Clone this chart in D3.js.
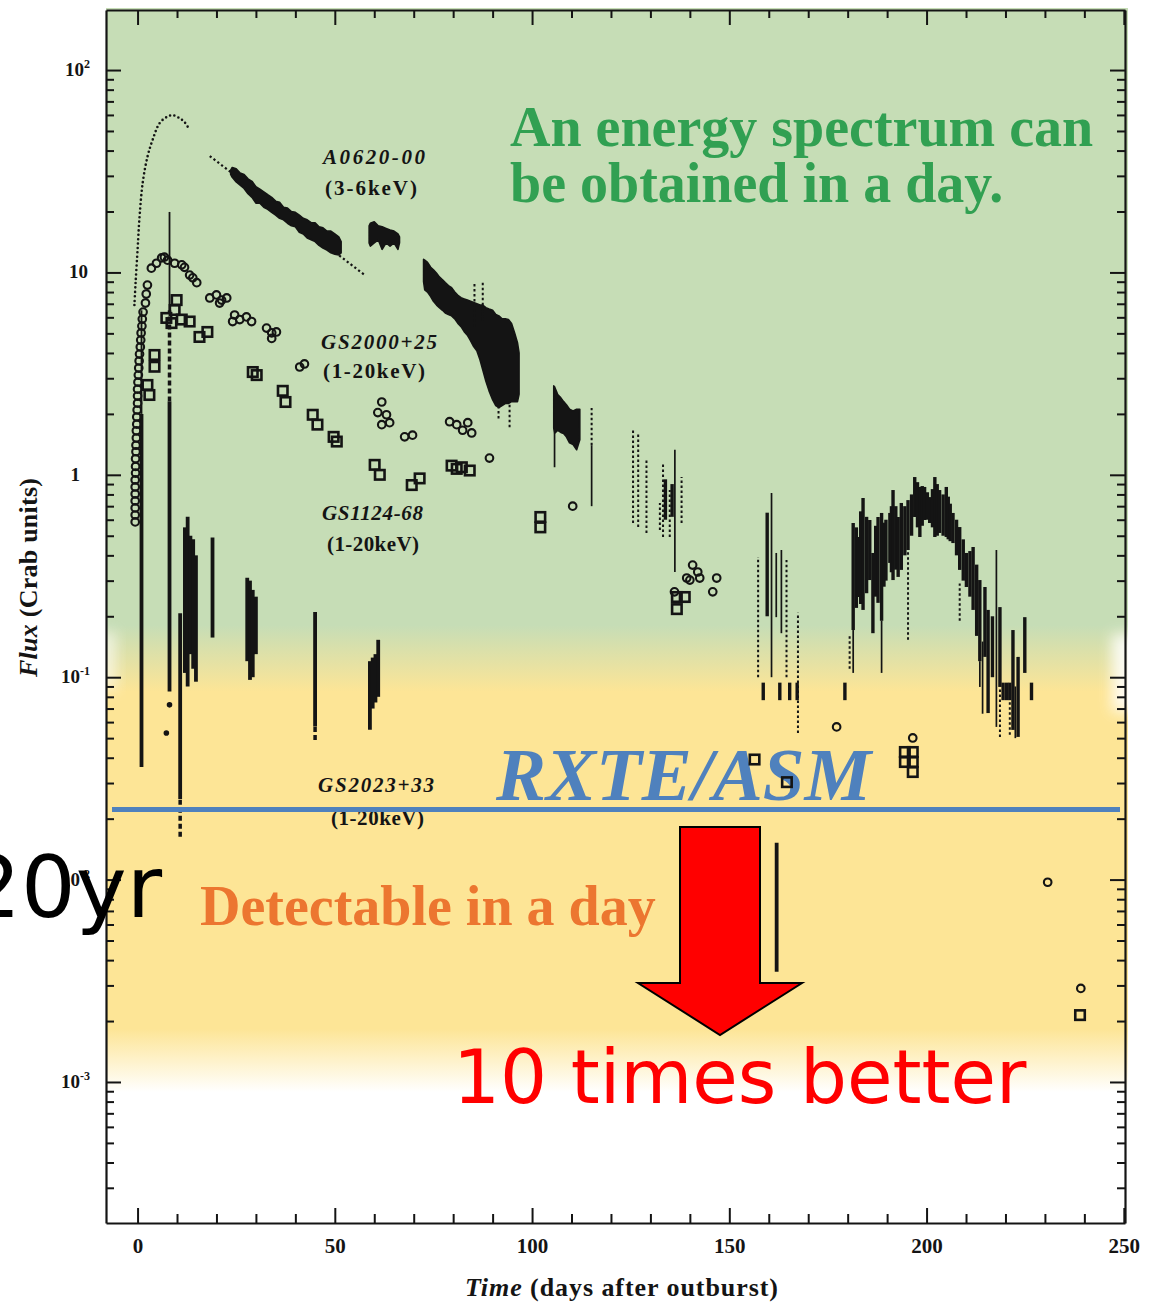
<!DOCTYPE html>
<html>
<head>
<meta charset="utf-8">
<title>X-ray nova light curves</title>
<script src="https://cdn.jsdelivr.net/npm/d3@7"></script>
<style>
  html, body { margin: 0; padding: 0; background: #fff; }
  svg { display: block; }
</style>
</head>
<body>
<div id="chart"></div>
<script>
// ---- Axis ticks -------------------------------------------------------
const dayMajorTicks = [0, 50, 100, 150, 200, 250];
const dayMinorTicks = [10, 20, 30, 40, 60, 70, 80, 90, 110, 120, 130, 140,
                       160, 170, 180, 190, 210, 220, 230, 240];
const fluxDecades = [100, 10, 1, 0.1, 0.01, 0.001];
const fluxDecadeLabels = [["10", "2"], ["10", ""], ["1", ""], ["10", "-1"], ["10", "-2"], ["10", "-3"]];

// ---- A0620-00 (3-6 keV) -----------------------------------------------
// rise and first maximum: [day, flux in Crab]
const a0620Rise = [[-0.8, 6.9], [-0.5, 8.9], [0, 12.9], [0.5, 18.8], [1.3, 27.7], [2.5, 37.2],
                   [3.8, 45.1], [5.6, 54.7], [7.4, 58.6], [8.9, 59.9], [10.6, 57.9], [11.9, 55.3], [13.2, 50.5]];
// exponential decay trend
const a0620Trend = [[18.3, 37.6], [57.6, 9.7]];
// continuous scan bands: [day, low flux, high flux]
const a0620BandEarly = [
  [23.6, 30.5, 32.0], [24, 29.5, 33.0], [25, 28.0, 32.5], [26, 27.0, 31.0], [27, 26.0, 30.5], [28, 24.5, 29.0],
  [29, 23.5, 28.2], [30, 22.0, 26.5], [31, 22.0, 25.8], [32, 21.0, 25.0], [33, 20.5, 24.2],
  [34, 19.8, 23.5], [35, 19.2, 22.5], [36, 18.5, 22.2], [37, 18.2, 21.0], [38, 17.5, 20.8],
  [39, 17.0, 20.0], [40, 16.8, 19.8], [41, 15.8, 19.2], [42, 15.5, 18.5], [43, 14.8, 18.2],
  [44, 14.5, 17.6], [45, 14.2, 17.6], [46, 13.6, 16.8], [47, 13.2, 16.6], [48, 12.9, 16.0],
  [49, 12.5, 16.0], [50, 12.3, 15.5], [51, 12.2, 15.0], [51.6, 12.5, 14.2]
];
const a0620Plateau = [
  [58.7, 14.0, 17.0], [59, 13.5, 17.5], [60, 14.0, 17.8], [61, 14.5, 17.0], [62, 13.0, 16.8], [63, 14.0, 16.5],
  [64, 13.5, 16.2], [65, 14.0, 16.0], [66, 13.0, 15.5], [66.4, 14.0, 15.0]
];
const a0620Decline = [
  [72.5, 9.0, 11.6], [72.8, 8.2, 11.5], [73.5, 8.0, 11.2], [74.3, 7.6, 10.6], [75.0, 7.2, 10.3], [75.8, 6.9, 9.9],
  [76.5, 6.7, 9.5], [77.3, 6.5, 9.2], [78.0, 6.3, 8.9], [78.8, 6.2, 8.6], [79.6, 6.1, 8.4],
  [80.4, 5.9, 8.0], [81.2, 5.6, 7.7], [82.0, 5.4, 7.5], [82.8, 5.1, 7.4], [83.6, 4.9, 7.3],
  [84.4, 4.6, 7.2], [85.2, 4.3, 7.1], [86.0, 4.1, 7.0], [86.8, 3.7, 6.9], [87.5, 3.3, 6.9],
  [88.3, 2.9, 6.7], [89.1, 2.6, 6.6], [90.0, 2.35, 6.5], [90.8, 2.2, 6.2], [91.6, 2.15, 6.1],
  [92.4, 2.2, 5.9], [93.2, 2.25, 5.9], [94.0, 2.25, 5.85], [94.8, 2.3, 5.6], [95.6, 2.3, 5.0],
  [96.3, 2.3, 4.5], [96.7, 2.5, 4.0]
];
const a0620Shoulder = [
  [105.5, 1.7, 2.75], [105.7, 1.6, 2.72], [106.5, 1.66, 2.49], [107.3, 1.62, 2.40], [108.0, 1.60, 2.30],
  [108.7, 1.54, 2.22], [109.5, 1.44, 2.11], [110.4, 1.41, 2.07], [111.3, 1.33, 2.11], [112.1, 1.49, 2.11]
];
// individual scan columns: [day, low flux, high flux]
const a0620Dense = [
  [133.8, 0.60, 0.95], [135.5, 0.62, 0.90],
  [159.6, 0.20, 0.65],
  [158.6, 0.077, 0.094], [162.8, 0.077, 0.094], [165.3, 0.077, 0.094], [167.2, 0.077, 0.094], [179.3, 0.077, 0.094],
  [181.4, 0.171, 0.578], [182.2, 0.22, 0.55], [182.6, 0.249, 0.493], [183.3, 0.23, 0.66], [183.9, 0.215, 0.768],
  [184.8, 0.26, 0.62], [185.6, 0.302, 0.598], [186.4, 0.165, 0.411], [187.1, 0.25, 0.56], [187.7, 0.233, 0.619],
  [188.6, 0.19, 0.648], [189.2, 0.28, 0.58], [189.7, 0.30, 0.60], [190.7, 0.367, 0.648], [191.1, 0.33, 0.70],
  [191.5, 0.302, 0.841], [192.2, 0.34, 0.70], [192.8, 0.313, 0.619], [193.6, 0.339, 0.726], [194.5, 0.40, 0.70],
  [195.3, 0.425, 0.750], [196.2, 0.50, 0.80], [197.0, 0.619, 0.975], [197.7, 0.55, 0.92], [198.3, 0.493, 0.871],
  [198.9, 0.56, 0.88], [199.5, 0.598, 0.871], [200.2, 0.60, 0.82], [200.8, 0.578, 0.776], [201.5, 0.55, 0.85],
  [202.1, 0.493, 0.975], [202.7, 0.50, 0.90], [203.3, 0.516, 0.841], [204.2, 0.50, 0.80], [205.0, 0.493, 0.871],
  [205.5, 0.48, 0.78], [206.0, 0.47, 0.72], [206.7, 0.460, 0.648], [207.6, 0.40, 0.60], [208.4, 0.339, 0.552],
  [209.3, 0.30, 0.48], [210.1, 0.279, 0.411], [211.0, 0.25, 0.42], [211.8, 0.215, 0.440], [212.7, 0.16, 0.36],
  [213.5, 0.12, 0.302], [214.8, 0.126, 0.279], [215.6, 0.0665, 0.215], [216.7, 0.10, 0.20],
  [218.6, 0.0895, 0.222], [219.4, 0.077, 0.094], [220.3, 0.077, 0.094], [221.1, 0.077, 0.094],
  [221.9, 0.0549, 0.171], [223.2, 0.0507, 0.126], [224.9, 0.105, 0.198], [226.6, 0.077, 0.094]
];
const a0620Thin = [
  [105.7, 1.09, 1.6], [115.1, 0.70, 1.4], [136.2, 0.331, 1.33], [160.7, 0.10, 0.813], [161.9, 0.198, 0.411],
  [163.2, 0.165, 0.425], [181.4, 0.105, 0.171], [188.6, 0.105, 0.19], [213.5, 0.0895, 0.12],
  [217.7, 0.0568, 0.425], [214.2, 0.066, 0.15], [222.5, 0.05, 0.09]
];
const a0620Dotted = [
  [85.4, 5.4, 8.9], [87.5, 5.8, 8.9], [91.5, 1.9, 2.3], [94.3, 1.72, 2.3], [115.1, 1.4, 2.14],
  [125.6, 0.578, 1.66], [126.9, 0.552, 1.61], [129.0, 0.516, 1.18], [132.4, 0.534, 0.726],
  [133.2, 0.493, 1.14], [134.9, 0.493, 0.841], [137.9, 0.578, 0.975],
  [157.3, 0.100, 0.393], [164.5, 0.100, 0.379], [167.4, 0.053, 0.208], [180.5, 0.11, 0.16],
  [195.3, 0.153, 0.425], [208.4, 0.19, 0.29], [218.6, 0.0507, 0.0895], [221.1, 0.052, 0.077]
];

// ---- GS2000+25 (1-20 keV), circles: [day, flux] ------------------------
const gs2000Circles = [
  [-0.6, 0.585], [-0.6, 0.633], [-0.6, 0.686], [-0.6, 0.743], [-0.6, 0.804], [-0.6, 0.871], [-0.6, 0.943],
  [-0.5, 1.02], [-0.5, 1.10], [-0.5, 1.20], [-0.4, 1.30], [-0.4, 1.40], [-0.3, 1.52], [-0.3, 1.65],
  [-0.2, 1.78], [-0.2, 1.93], [-0.1, 2.09], [0, 2.26], [0, 2.45], [0, 2.65], [0.1, 2.87], [0.2, 3.11],
  [0.3, 3.37], [0.4, 3.65], [0.5, 3.95], [0.7, 4.28], [0.8, 4.63], [0.9, 5.02], [1.1, 5.43], [1.2, 5.88],
  [1.4, 6.37], [2.0, 7.06], [2.2, 7.82], [2.5, 8.66],
  [3.5, 10.5], [4.8, 11.1], [6.1, 11.8], [6.8, 11.9], [7.6, 11.5],
  [9.4, 11.1], [11.2, 10.9], [11.9, 10.6], [13.2, 9.7], [14.0, 9.4], [15.0, 8.9],
  [18.3, 7.48], [20.0, 7.74], [20.8, 7.06], [21.3, 7.3], [22.6, 7.48],
  [24.1, 5.72], [24.6, 6.16], [25.9, 5.85], [27.6, 6.03], [28.9, 5.72],
  [32.7, 5.31], [34.0, 5.03], [34.0, 4.72], [35.2, 5.08],
  [41.1, 3.41], [42.3, 3.53],
  [60.9, 2.03], [61.9, 2.29], [61.9, 1.77], [63.1, 1.98], [63.9, 1.81],
  [67.7, 1.54], [69.7, 1.57],
  [79.1, 1.83], [80.9, 1.77], [82.4, 1.66], [83.7, 1.81], [84.7, 1.61],
  [89.2, 1.21], [110.3, 0.70],
  [136.1, 0.264], [139.2, 0.309], [140.0, 0.302], [140.7, 0.358], [142.0, 0.331], [142.5, 0.309],
  [145.8, 0.264], [146.8, 0.309],
  [177.2, 0.0568], [196.5, 0.0501], [230.7, 0.0097], [239.1, 0.0029]
];

// ---- GS1124-68 (1-20 keV), squares: [day, flux] ------------------------
const gs1124Squares = [
  [2.5, 2.78], [3.0, 2.48], [4.3, 3.91], [4.3, 3.42], [7.3, 5.96], [8.6, 5.62], [9.4, 6.52], [9.9, 7.3],
  [11.2, 5.85], [13.2, 5.72], [15.7, 4.80], [17.7, 5.08], [29.2, 3.22], [30.2, 3.11], [36.8, 2.60],
  [37.5, 2.29], [44.4, 1.98], [45.6, 1.77], [49.7, 1.54], [50.5, 1.46], [60.1, 1.12], [61.4, 1.0],
  [69.5, 0.89], [71.5, 0.96], [79.6, 1.11], [80.9, 1.07], [82.2, 1.09], [84.2, 1.05],
  [102.1, 0.619], [102.1, 0.55], [136.7, 0.249], [136.7, 0.217], [138.7, 0.249],
  [156.4, 0.0392], [164.6, 0.0303], [194.5, 0.0427], [196.5, 0.0427], [194.5, 0.0381], [196.5, 0.0381],
  [196.5, 0.034], [238.9, 0.00214]
];

// ---- GS2023+33 (1-20 keV): [day, low flux, high flux] ------------------
const gs2023Dense = [
  [1.0, 0.036, 2.0], [8.1, 0.085, 2.3], [10.8, 0.025, 0.207],
  [12.0, 0.105, 0.55], [12.7, 0.09, 0.62], [13.4, 0.13, 0.5], [14.1, 0.11, 0.48], [14.8, 0.095, 0.4],
  [19.0, 0.157, 0.49], [27.8, 0.12, 0.31], [28.5, 0.097, 0.30], [29.2, 0.10, 0.27], [30.0, 0.13, 0.25],
  [45.0, 0.057, 0.21], [58.9, 0.055, 0.12], [59.6, 0.07, 0.125], [60.3, 0.075, 0.13], [61.0, 0.08, 0.153],
  [162.0, 0.0035, 0.0152]
];
const gs2023Thin = [[1.0, 2.0, 6.5], [8.1, 6.5, 19.9]];
const gs2023Dotted = [[8.1, 2.3, 6.5], [10.8, 0.0163, 0.025], [45.0, 0.049, 0.057]];
const gs2023Points = [[8.1, 0.073], [7.3, 0.053]];

// RXTE/ASM one-day sensitivity (Crab)
const asmLimit = 0.0222;

// ---- Layout -----------------------------------------------------------
const W = 1157, H = 1302;
const x = d3.scaleLinear().domain([-8.0, 250.3]).range([106, 1125]);
const y = d3.scaleLog().domain([2.01e-4, 198]).range([1223, 10]);
const INK = "#141414";
const SERIF = "'Liberation Serif', 'Times New Roman', serif";
const SANS = "'DejaVu Sans', sans-serif";

const svg = d3.select("#chart").append("svg")
  .attr("width", W).attr("height", H).attr("viewBox", `0 0 ${W} ${H}`);
const defs = svg.append("defs");

// background: green (spectrum in a day) -> yellow (detectable in a day) -> white
const grad = defs.append("linearGradient").attr("id", "zoneFill")
  .attr("gradientUnits", "userSpaceOnUse").attr("x1", 0).attr("x2", 0).attr("y1", 8).attr("y2", 1120);
[[0, "#c6ddb6", 1], [0.555, "#c6ddb6", 1], [0.615, "#fde596", 1], [0.918, "#fde596", 1], [0.975, "#fde596", 0]]
  .forEach(([o, c, a]) => grad.append("stop").attr("offset", o).attr("stop-color", c).attr("stop-opacity", a));
defs.append("filter").attr("id", "soft").attr("x", "-50%").attr("y", "-50%").attr("width", "200%").attr("height", "200%")
  .append("feGaussianBlur").attr("stdDeviation", 7);

const bg = svg.append("g");
bg.append("rect").attr("x", 106).attr("y", 8).attr("width", 1022).attr("height", 1112).attr("fill", "url(#zoneFill)");
bg.append("rect").attr("x", 1112).attr("y", 634).attr("width", 60).attr("height", 78)
  .attr("fill", "#fff").attr("opacity", 0.85).attr("filter", "url(#soft)");
bg.append("rect").attr("x", 96).attr("y", 632).attr("width", 20).attr("height", 58)
  .attr("fill", "#fff").attr("opacity", 0.6).attr("filter", "url(#soft)");

// ---- Annotation texts behind the data ------------------------------------
const notes = svg.append("g");
notes.append("text").attr("x", 510).attr("y", 146)
  .attr("font-family", SERIF).attr("font-weight", "bold").attr("font-size", 56).attr("fill", "#31a052")
  .text("An energy spectrum can");
notes.append("text").attr("x", 510).attr("y", 202)
  .attr("font-family", SERIF).attr("font-weight", "bold").attr("font-size", 56).attr("fill", "#31a052")
  .text("be obtained in a day.");
notes.append("text").attr("x", 496).attr("y", 800)
  .attr("font-family", SERIF).attr("font-weight", "bold").attr("font-style", "italic")
  .attr("font-size", 75).attr("fill", "#4f81bd").text("RXTE/ASM");
notes.append("text").attr("x", 200).attr("y", 925)
  .attr("font-family", SERIF).attr("font-weight", "bold").attr("font-size", 56).attr("fill", "#ec7630")
  .text("Detectable in a day");

// ---- Data marks -------------------------------------------------------
const marks = svg.append("g");

function columns(rows, width, dash) {
  marks.append("g").selectAll("line").data(rows).join("line")
    .attr("x1", d => x(d[0])).attr("x2", d => x(d[0]))
    .attr("y1", d => y(d[1])).attr("y2", d => y(d[2]))
    .attr("stroke", INK).attr("stroke-width", width)
    .attr("stroke-dasharray", dash || null);
}
const bandArea = d3.area().x(d => x(d[0])).y0(d => y(d[1])).y1(d => y(d[2]));
function band(rows) {
  marks.append("path").datum(rows).attr("d", bandArea)
    .attr("fill", INK).attr("stroke", INK).attr("stroke-width", 1.6).attr("stroke-linejoin", "round");
}

// A0620-00 rise (dotted) and decay trend
marks.append("path").datum(a0620Rise)
  .attr("d", d3.line().x(d => x(d[0])).y(d => y(d[1])).curve(d3.curveCatmullRom))
  .attr("fill", "none").attr("stroke", INK).attr("stroke-width", 2.6)
  .attr("stroke-linecap", "round").attr("stroke-dasharray", "0,4.4");
marks.append("path").datum(a0620Trend)
  .attr("d", d3.line().x(d => x(d[0])).y(d => y(d[1])))
  .attr("fill", "none").attr("stroke", INK).attr("stroke-width", 2.2).attr("stroke-dasharray", "2.2,2.6");

band(a0620BandEarly);
band(a0620Plateau);
band(a0620Decline);
band(a0620Shoulder);
columns(a0620Dense, 3.4);
columns(a0620Thin, 1.7);
columns(a0620Dotted, 2, "2.5,2.5");

columns(gs2023Dense, 3.8);
columns(gs2023Thin, 1.8);
columns(gs2023Dotted, 3.5, "5,3");
marks.append("g").selectAll("circle").data(gs2023Points).join("circle")
  .attr("cx", d => x(d[0])).attr("cy", d => y(d[1])).attr("r", 2.8).attr("fill", INK);

marks.append("g").selectAll("circle").data(gs2000Circles).join("circle")
  .attr("cx", d => x(d[0])).attr("cy", d => y(d[1])).attr("r", 3.8)
  .attr("fill", "none").attr("stroke", INK).attr("stroke-width", 2.1);

const sq = 9.5;
marks.append("g").selectAll("rect").data(gs1124Squares).join("rect")
  .attr("x", d => x(d[0]) - sq / 2).attr("y", d => y(d[1]) - sq / 2)
  .attr("width", sq).attr("height", sq)
  .attr("fill", "none").attr("stroke", INK).attr("stroke-width", 2.6);

// ---- Axes -------------------------------------------------------------
const axes = svg.append("g");
function inkAxis(g) {
  g.select(".domain").attr("stroke", INK).attr("stroke-width", 2.2);
  g.selectAll(".tick line").attr("stroke", INK).attr("stroke-width", 2);
}
const fluxMinor = y.ticks().filter(v => !fluxDecades.some(d => Math.abs(v / d - 1) < 1e-6));

axes.append("g").attr("transform", `translate(0,${y.range()[0]})`)
  .call(d3.axisBottom(x).tickValues(dayMajorTicks).tickSizeInner(-15).tickSizeOuter(0)
        .tickPadding(15).tickFormat(d3.format("d")))
  .call(inkAxis)
  .call(g => g.selectAll("text").attr("font-family", SERIF).attr("font-weight", "bold")
                .attr("font-size", 21).attr("fill", INK));
axes.append("g").attr("transform", `translate(0,${y.range()[0]})`)
  .call(d3.axisBottom(x).tickValues(dayMinorTicks).tickSizeInner(-9).tickSizeOuter(0).tickFormat(""))
  .call(inkAxis).call(g => g.select(".domain").remove());

axes.append("g").attr("transform", `translate(0,${y.range()[1]})`)
  .call(d3.axisTop(x).tickValues(dayMajorTicks).tickSizeInner(-15).tickSizeOuter(0).tickFormat(""))
  .call(inkAxis);
axes.append("g").attr("transform", `translate(0,${y.range()[1]})`)
  .call(d3.axisTop(x).tickValues(dayMinorTicks).tickSizeInner(-8).tickSizeOuter(0).tickFormat(""))
  .call(inkAxis).call(g => g.select(".domain").remove());

axes.append("g").attr("transform", `translate(${x.range()[0]},0)`)
  .call(d3.axisLeft(y).tickValues(fluxDecades).tickSizeInner(-15).tickSizeOuter(0).tickFormat(""))
  .call(inkAxis);
axes.append("g").attr("transform", `translate(${x.range()[0]},0)`)
  .call(d3.axisLeft(y).tickValues(fluxMinor).tickSizeInner(-8).tickSizeOuter(0).tickFormat(""))
  .call(inkAxis).call(g => g.select(".domain").remove());

axes.append("g").attr("transform", `translate(${x.range()[1]},0)`)
  .call(d3.axisRight(y).tickValues(fluxDecades).tickSizeInner(-15).tickSizeOuter(0).tickFormat(""))
  .call(inkAxis);
axes.append("g").attr("transform", `translate(${x.range()[1]},0)`)
  .call(d3.axisRight(y).tickValues(fluxMinor).tickSizeInner(-8).tickSizeOuter(0).tickFormat(""))
  .call(inkAxis).call(g => g.select(".domain").remove());

// decade labels with superscript exponents
fluxDecades.forEach((v, i) => {
  const [base, exp] = fluxDecadeLabels[i];
  const t = axes.append("text")
    .attr("x", base === "1" ? 80 : (exp ? 90 : 88)).attr("y", y(v) + 6)
    .attr("text-anchor", "end").attr("font-family", SERIF).attr("font-weight", "bold")
    .attr("font-size", 19).attr("fill", INK);
  t.append("tspan").text(base);
  if (exp) t.append("tspan").attr("dy", -8).attr("font-size", 12).text(exp);
});

// axis titles
const xt = axes.append("text").attr("x", 465).attr("y", 1296)
  .attr("textLength", 313).attr("lengthAdjust", "spacing")
  .attr("font-family", SERIF).attr("font-weight", "bold").attr("font-size", 26).attr("fill", INK);
xt.append("tspan").attr("font-style", "italic").text("Time");
xt.append("tspan").text(" (days after outburst)");

const yt = axes.append("text").attr("transform", "translate(37,677) rotate(-90)")
  .attr("textLength", 199).attr("lengthAdjust", "spacing")
  .attr("font-family", SERIF).attr("font-weight", "bold").attr("font-size", 26).attr("fill", INK);
yt.append("tspan").attr("font-style", "italic").text("Flux");
yt.append("tspan").text(" (Crab units)");

// ---- Source labels ----------------------------------------------------
const srcLabels = [
  ["A0620-00", 323, 164, 102, true], ["(3-6keV)", 325, 195, 92, false],
  ["GS2000+25", 321, 349, 116, true], ["(1-20keV)", 323, 378, 102, false],
  ["GS1124-68", 322, 520, 101, true], ["(1-20keV)", 327, 551, 92, false],
  ["GS2023+33", 318, 792, 116, true], ["(1-20keV)", 331, 825, 93, false]
];
svg.append("g").selectAll("text").data(srcLabels).join("text")
  .attr("x", d => d[1]).attr("y", d => d[2])
  .attr("textLength", d => d[3]).attr("lengthAdjust", "spacing")
  .attr("font-family", SERIF).attr("font-weight", "bold")
  .attr("font-style", d => d[4] ? "italic" : "normal")
  .attr("font-size", 21).attr("fill", INK).text(d => d[0]);

// ---- RXTE/ASM limit, improvement arrow, captions -------------------------
svg.append("line").attr("x1", 112).attr("x2", 1120)
  .attr("y1", y(asmLimit)).attr("y2", y(asmLimit))
  .attr("stroke", "#4f81bd").attr("stroke-width", 5);

const arrow = d3.path();
arrow.moveTo(680, 827); arrow.lineTo(760, 827); arrow.lineTo(760, 983); arrow.lineTo(802, 983);
arrow.lineTo(720, 1035); arrow.lineTo(638, 983); arrow.lineTo(680, 983); arrow.closePath();
svg.append("path").attr("d", arrow.toString())
  .attr("fill", "#ff0000").attr("stroke", "#000").attr("stroke-width", 2).attr("stroke-linejoin", "miter");

svg.append("text").attr("x", 453).attr("y", 1103)
  .attr("font-family", SANS).attr("font-size", 74).attr("fill", "#ff0000").text("10 times better");

svg.append("text").attr("x", 162).attr("y", 917).attr("text-anchor", "end")
  .attr("font-family", SANS).attr("font-size", 86).attr("fill", "#000").text("20yr");
</script>
</body>
</html>
